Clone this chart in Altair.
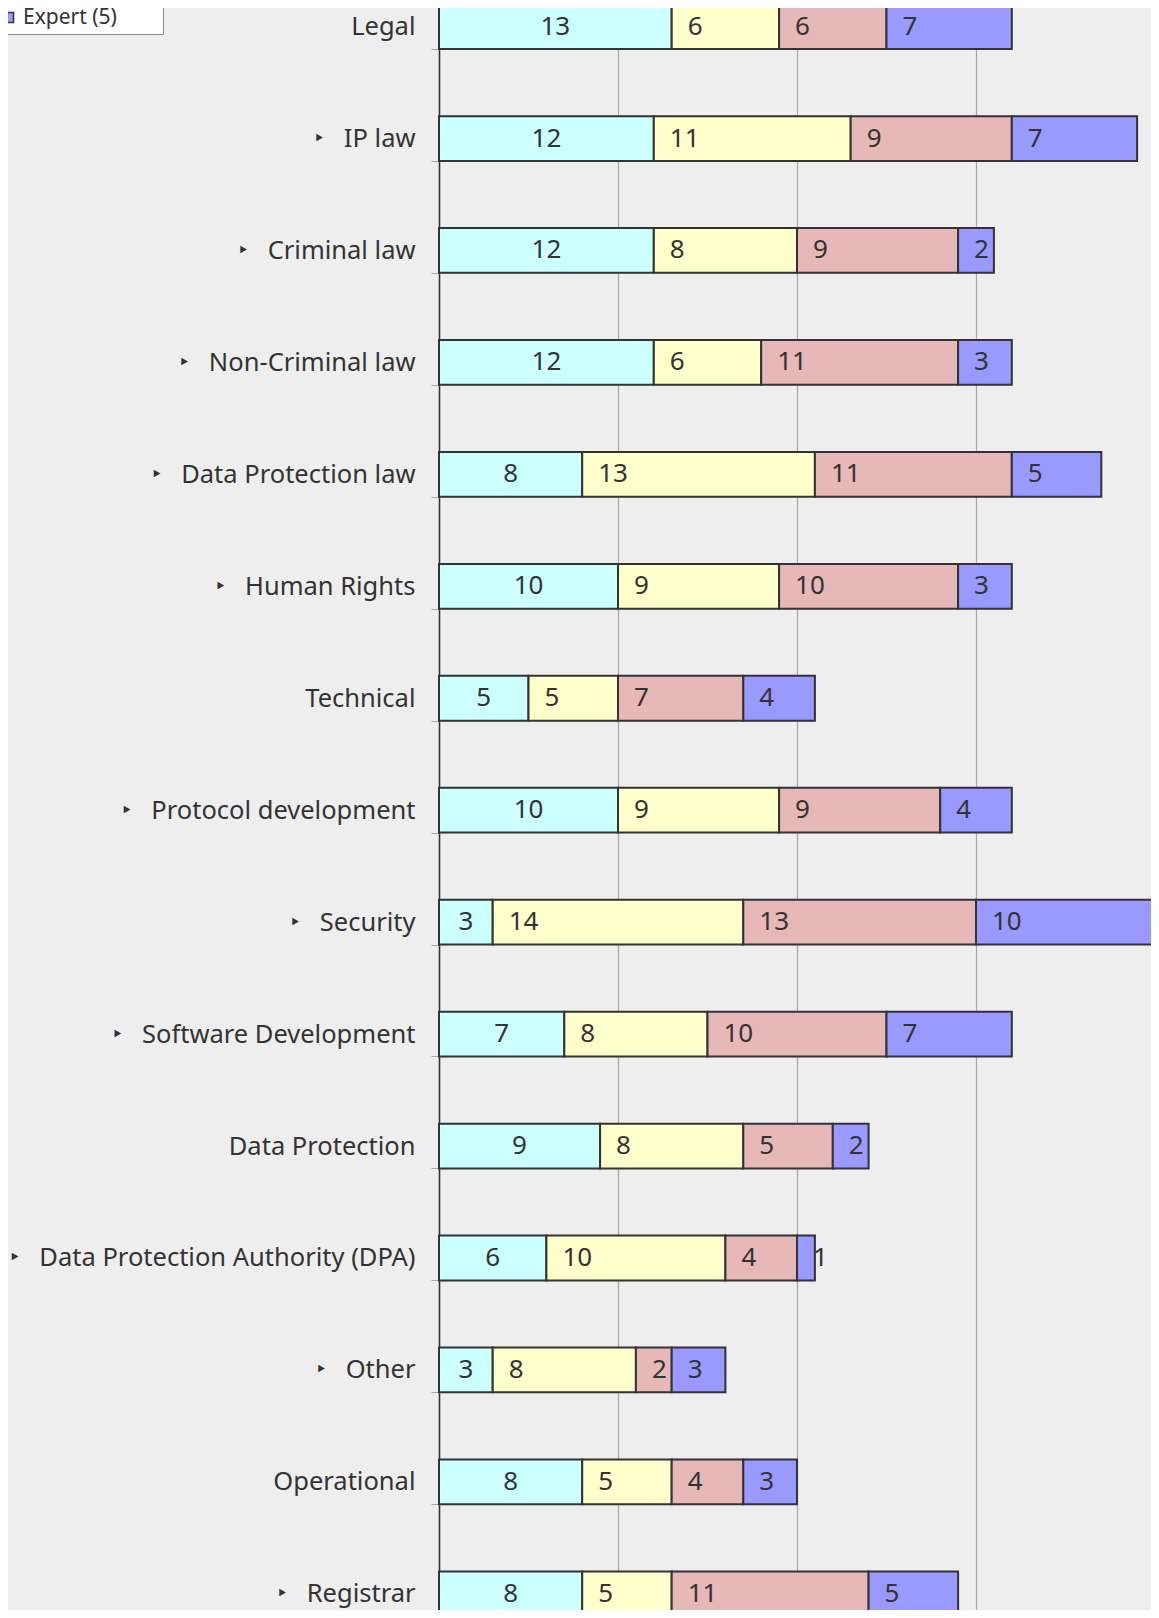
import altair as alt
import pandas as pd

categories = [
    "Legal", "IP law", "Criminal law", "Non-Criminal law", "Data Protection law",
    "Human Rights", "Technical", "Protocol development", "Security",
    "Software Development", "Data Protection", "Data Protection Authority (DPA)",
    "Other", "Operational", "Registrar",
]
has_arrow = [False, True, True, True, True, True, False, True, True, True,
             False, True, True, False, True]

series = ["Basic (2)", "Intermediate (3)", "Advanced (4)", "Expert (5)"]
colors = ["#ccffff", "#ffffcc", "#e6b8b7", "#9999ff"]

basic = [13, 12, 12, 12, 8, 10, 5, 10, 3, 7, 9, 6, 3, 8, 8]
intermediate = [6, 11, 8, 6, 13, 9, 5, 9, 14, 8, 8, 10, 8, 5, 5]
advanced = [6, 9, 9, 11, 11, 10, 7, 9, 13, 10, 5, 4, 2, 4, 11]
expert = [7, 7, 2, 3, 5, 3, 4, 4, 10, 7, 2, 1, 3, 3, 5]

values = [basic, intermediate, advanced, expert]

ARROW = "\u2023\u00a0\u00a0\u00a0"
labels = [(ARROW + c) if a else c for c, a in zip(categories, has_arrow)]

rows = []
for si, (s, vals) in enumerate(zip(series, values)):
    for lab, v in zip(labels, vals):
        rows.append({"category": lab, "series": s, "order": si, "value": v})
df = pd.DataFrame(rows)

FONT = "Noto Sans"
STEP_TOP = -37.4
STEP_BOTTOM = 1641.8

y_enc = alt.Y(
    "category:N",
    sort=labels,
    title=None,
    scale=alt.Scale(range=[STEP_TOP, STEP_BOTTOM], paddingInner=0.6, paddingOuter=0.3),
    axis=alt.Axis(
        tickBand="extent",
        tickColor="#aaaaaa",
        tickSize=8,
        tickWidth=1,
        domainColor="#333333",
        domainWidth=1.5,
        labelFont=FONT,
        labelFontSize=25.5,
        labelColor="#333333",
        labelPadding=16,
        labelLimit=600,
        grid=False,
    ),
)

x_scale = alt.Scale(domain=[0, 40], range=[0, 716], nice=False)
x_axis = alt.Axis(values=[0, 10, 20, 30, 40], grid=True, gridColor="#aaaaaa",
                  gridWidth=1.2, labels=False, ticks=False, domain=False, title=None)

base = alt.Chart(df).transform_stack(
    stack="value", as_=["x0", "x1"], groupby=["category"],
    sort=[alt.SortField("order", order="ascending")],
)

bars = base.mark_bar(stroke="#333333", strokeWidth=2).encode(
    y=y_enc,
    x=alt.X("x0:Q", scale=x_scale, axis=x_axis),
    x2="x1:Q",
    color=alt.Color(
        "series:N",
        sort=series,
        scale=alt.Scale(domain=series, range=colors),
        legend=alt.Legend(
            orient="none", legendX=-447, legendY=-97, title=None,
            fillColor="white", strokeColor="#888888", padding=6,
            symbolType="square", symbolSize=100, symbolStrokeColor="#333333",
            symbolStrokeWidth=1.5, symbolOpacity=1,
            labelFont=FONT, labelFontSize=21, labelColor="#333333",
            labelOffset=4, rowPadding=8, labelLimit=136,
        ),
    ),
    order=alt.Order("order:Q"),
)

first_text = base.transform_filter("datum.order == 0").transform_calculate(
    mid="(datum.x0 + datum.x1) / 2"
).mark_text(align="center", baseline="middle", font=FONT, fontSize=26, color="#333333").encode(
    y=alt.Y("category:N", sort=labels),
    x=alt.X("mid:Q", scale=x_scale),
    text="value:Q",
)

other_text = base.transform_filter("datum.order > 0").mark_text(
    align="left", baseline="middle", dx=16, font=FONT, fontSize=26, color="#333333"
).encode(
    y=alt.Y("category:N", sort=labels),
    x=alt.X("x0:Q", scale=x_scale),
    text="value:Q",
)

chart = alt.layer(bars, first_text, other_text).properties(
    width=712,
    height=1602,
    padding={"left": 431, "top": 0, "right": 0, "bottom": 0},
    autosize=alt.AutoSizeParams(type="none"),
    background="#eeeeee",
).configure_view(strokeWidth=0)

chart.save("out.html", embed_options={"renderer": "svg", "actions": False})
